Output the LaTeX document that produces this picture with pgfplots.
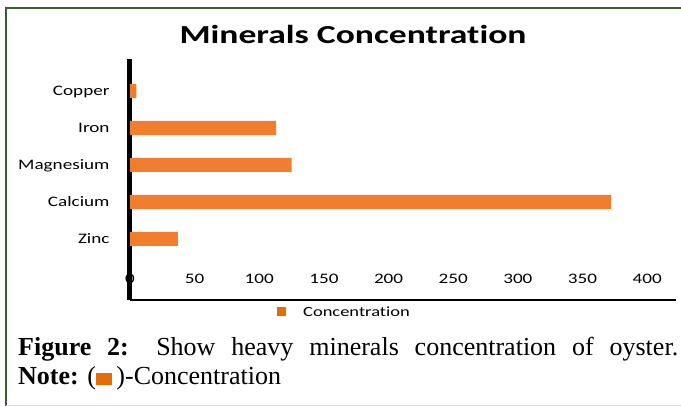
\documentclass[border=0pt]{standalone}
\usepackage{pgfplots}
\pgfplotsset{compat=1.18}
\usepackage{fontspec}
\setmainfont{Liberation Serif}
\newfontfamily\chartfont[FakeStretch=1.32, Ligatures=NoCommon]{Carlito}
\newfontfamily\titlefont[FakeStretch=1.37, Ligatures=NoCommon]{Carlito}
\definecolor{barfill}{RGB}{240,126,46}
\definecolor{legor}{RGB}{228,108,10}
\definecolor{frame}{RGB}{52,94,42}
\begin{document}
\begin{tikzpicture}[x=1pt,y=1pt]
\path[use as bounding box] (0,0) rectangle (681,406);
\draw[frame, line width=2pt] (6,0) -- (6,398) -- (681,398);
\draw[gray!25, line width=0.8pt] (6,1) -- (681,1);
\node[anchor=base, inner sep=0pt] at (353,362.7) {\titlefont\fontsize{26pt}{30pt}\selectfont\bfseries Minerals Concentration};
\begin{axis}[
  at={(130pt,106pt)}, anchor=south west,
  scale only axis, width=546pt, height=241pt,
  xmin=0, xmax=422.3, ymin=-1.649, ymax=4.865,
  axis x line*=bottom, axis y line*=left,
  x axis line style={line width=2pt, black},
  y axis line style={line width=5pt, black},
  xtick={0,50,...,400},
  xtick style={draw=none},
  /pgf/number format/assume math mode=true,
  xticklabel style={font=\chartfont\fontsize{14.5pt}{16pt}\selectfont, anchor=base, inner sep=0pt, yshift=16.3pt},
  ytick={0,1,2,3,4},
  yticklabels={Zinc,Calcium,Magnesium,Iron,Copper},
  ytick style={draw=none},
  yticklabel style={font=\chartfont\fontsize{14.5pt}{16pt}\selectfont, anchor=base east, inner sep=0pt, xshift=-16pt, yshift=-4.6pt},
  extra y ticks={-0.5,0.5,1.5,2.5,3.5,4.5},
  extra y tick labels={},
  extra y tick style={major tick length=5pt, tick align=outside, tick style={draw=gray!45, line width=0.8pt}},
  xbar, bar width=14pt,
  legend style={draw=none, fill=none, at={(rel axis cs:0.2692,-0.0498)}, anchor=west, inner sep=0pt, font=\chartfont\fontsize{14pt}{16pt}\selectfont, nodes={inner sep=0pt}},
  legend image code/.code={\fill[legor] (0pt,-4.5pt) rectangle (9pt,4.5pt); \path (26pt,0pt);},
]
\addplot[draw=none, fill=barfill] coordinates {
  (37,0) (372,1) (125,2) (113,3) (5,4)
};
\addlegendentry{Concentration}
\end{axis}
\node[anchor=base west, inner sep=0pt] at (18,50) {\fontsize{26pt}{30pt}\selectfont\makebox[660pt][s]{\textbf{Figure 2:} Show heavy minerals concentration of oyster.}};
\node[anchor=base west, inner sep=0pt] at (18,21) {\fontsize{26pt}{30pt}\selectfont\textbf{Note:} (\textcolor{legor}{\rule{16pt}{12pt}}\,)-Concentration};
\end{tikzpicture}
\end{document}
